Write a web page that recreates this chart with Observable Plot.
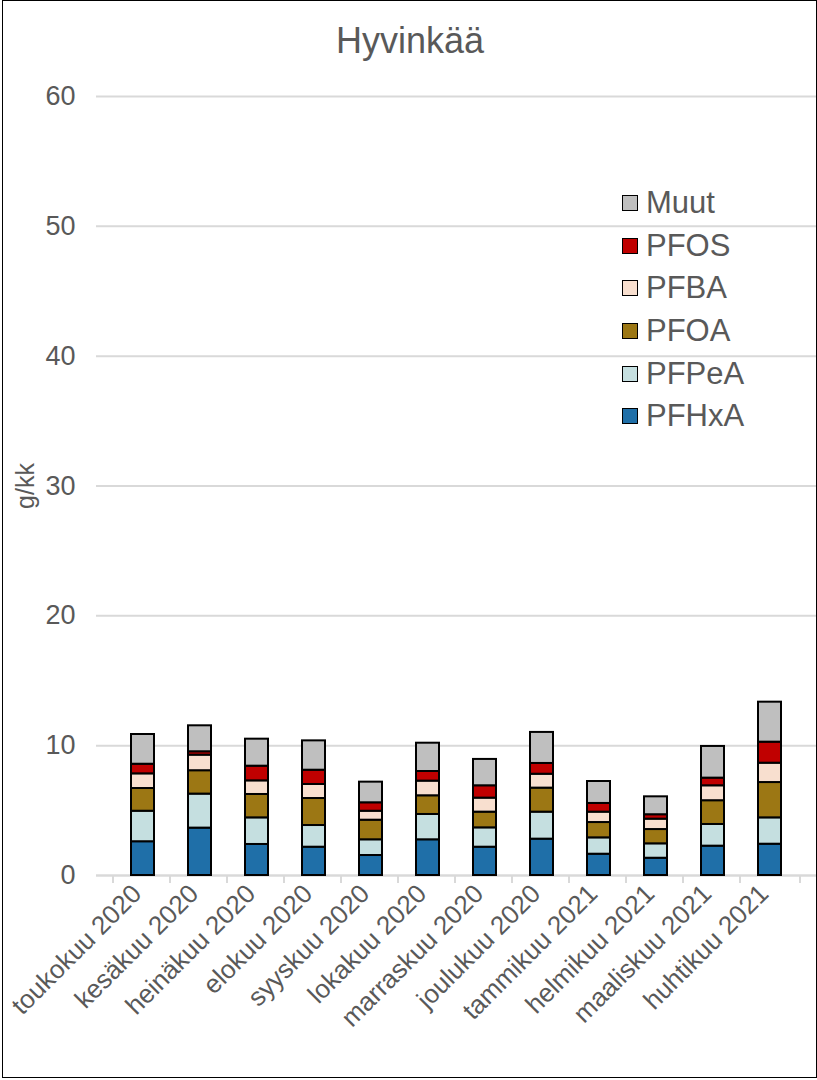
<!DOCTYPE html>
<html>
<head>
<meta charset="utf-8">
<script src="https://cdn.jsdelivr.net/npm/d3@7"></script>
<script src="https://cdn.jsdelivr.net/npm/@observablehq/plot@0.6"></script>
<style>
  html, body { margin: 0; padding: 0; background: #fff; }
  #wrap { position: relative; width: 817px; height: 1080px; font-family: "Liberation Sans", Arial, sans-serif; overflow: hidden; }
  #frame { position: absolute; left: 2px; top: 0; width: 815px; height: 1078px; box-sizing: border-box; border: 1.5px solid #000; pointer-events: none; }
  #title { position: absolute; left: 0; width: 820px; top: 20px; text-align: center; font-size: 36px; color: #595959; }
  #legend { position: absolute; left: 622px; top: 182px; }
  .row { display: flex; align-items: center; height: 42.6px; font-size: 31px; color: #595959; }
  .sw { width: 14px; height: 14px; border: 1.5px solid #000; margin-right: 8px; }
  #chart { position: absolute; left: 0; top: 0; }
</style>
</head>
<body>
<div id="wrap">
  <div id="chart"></div>
  <div id="title">Hyvinkää</div>
  <div id="legend"></div>
  <div id="frame"></div>
</div>
<script>
const months = ["toukokuu 2020", "kesäkuu 2020", "heinäkuu 2020", "elokuu 2020", "syyskuu 2020", "lokakuu 2020", "marraskuu 2020", "joulukuu 2020", "tammikuu 2021", "helmikuu 2021", "maaliskuu 2021", "huhtikuu 2021"];
const seriesNames = ["PFHxA", "PFPeA", "PFOA", "PFBA", "PFOS", "Muut"];
const seriesColors = ["#1f6fa8", "#c5dfe0", "#9c7714", "#f8dfcf", "#c00000", "#bfbfbf"];
const PFHxA = [2.60, 3.65, 2.39, 2.18, 1.54, 2.75, 2.18, 2.80, 1.64, 1.33, 2.26, 2.41];
const PFPeA = [2.35, 2.62, 2.05, 1.67, 1.21, 1.95, 1.49, 2.08, 1.26, 1.11, 1.67, 2.03];
const PFOA  = [1.75, 1.80, 1.80, 2.08, 1.51, 1.44, 1.21, 1.85, 1.18, 1.10, 1.83, 2.72];
const PFBA  = [1.13, 1.20, 1.05, 1.08, 0.69, 1.13, 1.08, 1.07, 0.80, 0.80, 1.15, 1.49];
const PFOS  = [0.74, 0.26, 1.13, 1.10, 0.65, 0.74, 0.95, 0.83, 0.67, 0.34, 0.59, 1.62];
const Muut  = [2.29, 2.00, 2.08, 2.26, 1.59, 2.18, 2.03, 2.39, 1.69, 1.38, 2.44, 3.08];
const yTicks = [0, 10, 20, 30, 40, 50, 60];

const seriesValues = {PFHxA, PFPeA, PFOA, PFBA, PFOS, Muut};
const data = [];
seriesNames.forEach(s => months.forEach((m, i) => data.push({month: m, series: s, value: seriesValues[s][i]})));

const grey = "#595959";
const chart = Plot.plot({
  width: 817,
  height: 1080,
  marginTop: 96,
  marginBottom: 205,
  marginLeft: 96,
  marginRight: 1,
  style: {fontFamily: "'Liberation Sans', Arial, sans-serif", background: "transparent", overflow: "visible"},
  x: {domain: months, padding: 0.6, label: null},
  y: {domain: [0, 60], label: "g/kk"},
  color: {domain: seriesNames, range: seriesColors},
  marks: [
    Plot.gridY({ticks: yTicks, stroke: "#d9d9d9", strokeOpacity: 1, strokeWidth: 2}),
    Plot.axisY({ticks: yTicks, tickSize: 0, tickPadding: 21, fontSize: 27, fill: grey, label: null}),
    Plot.axisY({ticks: [], tickSize: 0, fontSize: 25, fill: grey, label: "g/kk", labelAnchor: "center", labelArrow: "none", labelOffset: 80}),
    Plot.axisX({tickSize: 0, tickRotate: -45, fontSize: 26, fill: grey, tickPadding: 14, dx: -6, label: null}),
    Plot.ruleY([0], {stroke: "#d9d9d9", strokeWidth: 2}),
    Plot.ruleX(months, {x: d => d, y1: 0, y2: 0, insetBottom: -8, dx: -30, stroke: "#d9d9d9", strokeWidth: 2}),
    Plot.ruleX([months[months.length - 1]], {x: d => d, y1: 0, y2: 0, insetBottom: -8, dx: 30, stroke: "#d9d9d9", strokeWidth: 2}),
    Plot.barY(data, {x: "month", y: "value", fill: "series", stroke: "#000", strokeWidth: 2, order: seriesNames})
  ]
});
document.getElementById("chart").appendChild(chart);

const legend = document.getElementById("legend");
[...seriesNames].reverse().forEach(s => {
  const row = document.createElement("div");
  row.className = "row";
  const sw = document.createElement("div");
  sw.className = "sw";
  sw.style.background = seriesColors[seriesNames.indexOf(s)];
  const t = document.createElement("span");
  t.textContent = s;
  row.appendChild(sw);
  row.appendChild(t);
  legend.appendChild(row);
});
</script>
</body>
</html>
